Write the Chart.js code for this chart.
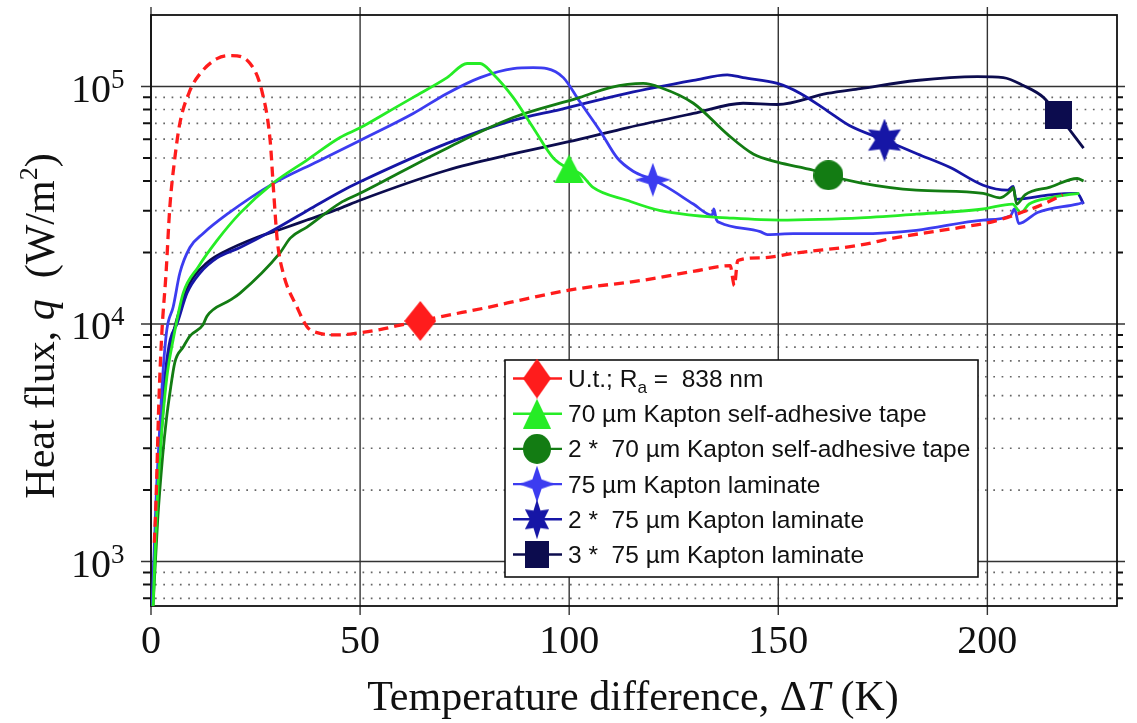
<!DOCTYPE html>
<html>
<head>
<meta charset="utf-8">
<script src="https://cdn.jsdelivr.net/npm/chart.js@4.4.1/dist/chart.umd.min.js"></script>
<style>
  html, body { margin: 0; padding: 0; background: #fff; }
  #wrap { width: 1137px; height: 723px; }
</style>
</head>
<body>
<div id="wrap"><canvas id="chart" width="1137" height="723"></canvas></div>
<script>
// Heat flux q (W/m^2) against temperature difference dT (K)
const utT = [0.8, 1.2, 1.9, 2.6, 3.6, 4.5, 5.7, 6.9, 9.3, 11.7, 15.8, 19.3, 23.7, 26.5, 28.5, 29.3, 30.2, 31.6, 34.9, 37.3, 39.7, 45, 50, 55, 59.6, 64.4, 70, 80, 90, 100, 117.7, 130, 138.5, 139.5, 140.3, 145.7, 155, 169.6, 177.5, 193.5, 201.4, 207, 213.4, 218];
const utQ = [1.2e3, 1.8e3, 4.8e3, 9.2e3, 1.64e4, 3.1e4, 5.0e4, 7.0e4, 9.6e4, 1.13e5, 1.31e5, 1.35e5, 1.25e5, 9.6e4, 5.9e4, 3.66e4, 2.25e4, 1.64e4, 1.18e4, 9.75e3, 9.2e3, 9.0e3, 9.2e3, 9.5e3, 9.9e3, 1.03e4, 1.08e4, 1.17e4, 1.28e4, 1.39e4, 1.53e4, 1.67e4, 1.76e4, 1.45e4, 1.85e4, 1.9e4, 2.0e4, 2.15e4, 2.3e4, 2.55e4, 2.7e4, 2.9e4, 3.2e4, 3.5e4];

const tape1T = [0.5, 1.5, 2.6, 3.8, 5.3, 7.7, 11.3, 15.8, 21.3, 29.2, 37.3, 45.2, 50, 56, 62.7, 70.8, 75.6, 78.7, 81.8, 86.6, 91.4, 96.2, 100, 102.6, 105.7, 113.8, 121.8, 129.7, 137.8, 150.5, 160, 169.6, 183, 199, 206, 208, 210, 215, 219, 222];
const tape1Q = [650, 1.8e3, 3.6e3, 6.0e3, 8.6e3, 1.35e4, 1.74e4, 2.25e4, 2.93e4, 3.92e4, 4.9e4, 6.1e4, 6.7e4, 7.7e4, 9.0e4, 1.09e5, 1.25e5, 1.25e5, 1.13e5, 9.0e4, 6.7e4, 5.0e4, 4.5e4, 4.3e4, 3.76e4, 3.32e4, 3.0e4, 2.87e4, 2.8e4, 2.74e4, 2.76e4, 2.8e4, 2.9e4, 3.05e4, 3.2e4, 2.95e4, 3.2e4, 3.4e4, 3.5e4, 3.55e4];

const tape2T = [0.5, 1.6, 2.8, 3.7, 4.5, 5.7, 7.7, 9.3, 12.4, 13.4, 18.9, 21.3, 30.9, 33.3, 37.3, 45.2, 50, 70.8, 86.6, 102.6, 109.8, 117.7, 121.8, 129.7, 137.8, 144, 149.8, 158.4, 162, 169.6, 183, 199, 203, 205.7, 206.2, 207, 209, 215, 221.5, 223];
const tape2Q = [650, 1.5e3, 2.8e3, 4.0e3, 5.1e3, 6.9e3, 8.0e3, 8.9e3, 9.9e3, 1.08e4, 1.26e4, 1.35e4, 2.0e4, 2.3e4, 2.56e4, 3.23e4, 3.55e4, 5.5e4, 7.4e4, 9.0e4, 9.9e4, 1.03e5, 9.9e4, 8.5e4, 6.3e4, 5.2e4, 4.8e4, 4.44e4, 4.23e4, 3.93e4, 3.66e4, 3.55e4, 3.4e4, 3.66e4, 3.75e4, 3.2e4, 3.5e4, 3.77e4, 4.1e4, 4.0e4];

const lam1T = [0.3, 1.2, 2.2, 2.9, 3.8, 5.3, 6.9, 9.3, 12.4, 18.2, 29.2, 40, 50, 62.7, 70.8, 78.7, 86.6, 91.4, 94.7, 98.6, 102.6, 107.4, 111.5, 115.3, 120, 123.4, 129.7, 134.2, 134.6, 135.2, 136.1, 145.7, 147.4, 153.6, 169.6, 183, 199, 205.5, 206.5, 207.5, 212, 221.5, 223];
const lam1Q = [650, 1.8e3, 3.95e3, 6.4e3, 9.5e3, 1.18e4, 1.64e4, 2.1e4, 2.4e4, 2.9e4, 3.9e4, 4.85e4, 5.93e4, 7.7e4, 9.35e4, 1.09e5, 1.19e5, 1.2e5, 1.19e5, 1.09e5, 8.6e4, 6.5e4, 5.0e4, 4.4e4, 4.05e4, 3.77e4, 3.2e4, 2.87e4, 3.05e4, 2.75e4, 2.67e4, 2.45e4, 2.38e4, 2.4e4, 2.4e4, 2.48e4, 2.74e4, 2.85e4, 3.05e4, 2.65e4, 2.95e4, 3.2e4, 3.25e4];

const lam2T = [0.3, 1.4, 2.5, 3.5, 4.6, 6.2, 8.6, 11.7, 15.8, 21.3, 29.2, 37.3, 45.2, 50, 70.8, 86.6, 97.8, 113.8, 129.7, 137.8, 141.6, 149.8, 155.3, 161.7, 167, 175.4, 183.3, 191, 199, 204.8, 206.2, 206.8, 215, 221.5, 223];
const lam2Q = [650, 1.8e3, 3.95e3, 6.4e3, 8.6e3, 1.0e4, 1.35e4, 1.64e4, 1.9e4, 2.1e4, 2.48e4, 3.0e4, 3.6e4, 3.97e4, 5.76e4, 7.2e4, 8.0e4, 9.35e4, 1.06e5, 1.12e5, 1.09e5, 1.03e5, 9.35e4, 7.9e4, 6.85e4, 5.95e4, 5.2e4, 4.57e4, 3.84e4, 3.66e4, 3.8e4, 3.35e4, 3.5e4, 3.55e4, 3.2e4];

const lam3T = [0.3, 1.5, 2.7, 3.8, 5.0, 6.2, 9.3, 13.4, 17.2, 25.4, 30.9, 37.3, 45.2, 50, 70.8, 86.6, 102.6, 113.8, 129.7, 141.6, 149.8, 161.7, 169.6, 183, 197.6, 203.8, 208.6, 213.4, 217, 223];
const lam3Q = [650, 1.8e3, 3.95e3, 6.4e3, 8.6e3, 1.05e4, 1.49e4, 1.81e4, 2.0e4, 2.32e4, 2.5e4, 2.74e4, 3.07e4, 3.32e4, 4.44e4, 5.2e4, 6.0e4, 6.7e4, 7.7e4, 8.5e4, 8.4e4, 9.35e4, 9.8e4, 1.06e5, 1.1e5, 1.09e5, 1.01e5, 9.0e4, 7.55e4, 5.5e4];

// one marker per series, sitting on its curve
const markT = [64.4, 100, 162, 120, 175.4, 217];
const markQ = [1.03e4, 4.5e4, 4.23e4, 4.05e4, 5.95e4, 7.55e4];

const seriesNames = ['U.t.; R|a| =  838 nm', '70 µm Kapton self-adhesive tape', '2 *  70 µm Kapton self-adhesive tape', '75 µm Kapton laminate', '2 *  75 µm Kapton laminate', '3 *  75 µm Kapton laminate'];
const seriesColors = ['#ff1c1c', '#26ec26', '#137c13', '#3c3cf0', '#1616a6', '#0c0c4e'];
const xTicks = [0, 50, 100, 150, 200];
const yDecades = [3, 4, 5];

function markerCanvas(shape, color, w, h) {
  const c = document.createElement('canvas');
  c.width = w; c.height = h;
  const g = c.getContext('2d');
  const cx = w / 2, cy = h / 2;
  g.fillStyle = color;
  g.beginPath();
  if (shape === 'diamond') {
    g.moveTo(cx, 0); g.lineTo(w, cy); g.lineTo(cx, h); g.lineTo(0, cy);
  } else if (shape === 'triangle') {
    g.moveTo(cx, 0); g.lineTo(w, h); g.lineTo(0, h);
  } else if (shape === 'circle') {
    g.ellipse(cx, cy, w / 2, h / 2, 0, 0, Math.PI * 2);
  } else if (shape === 'square') {
    g.rect(0, 0, w, h);
  } else {
    const n = shape === 'star4' ? 4 : 6;
    const inner = shape === 'star4' ? 0.36 : 0.5;
    for (let i = 0; i < n * 2; i++) {
      const ang = -Math.PI / 2 + i * Math.PI / n;
      const r = i % 2 ? inner : 1;
      const px = cx + Math.cos(ang) * r * w / 2;
      const py = cy + Math.sin(ang) * r * h / 2;
      i ? g.lineTo(px, py) : g.moveTo(px, py);
    }
  }
  g.closePath();
  g.fill();
  return c;
}

const markers = [
  markerCanvas('diamond', seriesColors[0], 32, 40),
  markerCanvas('triangle', seriesColors[1], 30, 29),
  markerCanvas('circle', seriesColors[2], 30, 30),
  markerCanvas('star4', seriesColors[3], 36, 34),
  markerCanvas('star6', seriesColors[4], 38, 43),
  markerCanvas('square', seriesColors[5], 27, 28)
];
const legendMarkers = [
  markerCanvas('diamond', seriesColors[0], 28, 40),
  markerCanvas('triangle', seriesColors[1], 28, 30),
  markerCanvas('circle', seriesColors[2], 28, 30),
  markerCanvas('star4', seriesColors[3], 36, 37),
  markerCanvas('star6', seriesColors[4], 28, 40),
  markerCanvas('square', seriesColors[5], 24, 27)
];

function pairs(xs, ys) {
  return xs.map((v, i) => ({ x: v, y: ys[i] }));
}

const curves = [[utT, utQ], [tape1T, tape1Q], [tape2T, tape2Q], [lam1T, lam1Q], [lam2T, lam2Q], [lam3T, lam3Q]];

const datasets = [];
// markers first so they end up on top of the lines
markT.forEach((t, i) => {
  datasets.push({
    data: [{ x: t, y: markQ[i] }],
    showLine: false,
    pointStyle: markers[i],
    pointRadius: 12,
    borderWidth: 0
  });
});
curves.forEach(([xs, ys], i) => {
  datasets.push({
    data: pairs(xs, ys),
    borderColor: seriesColors[i],
    borderWidth: i === 0 ? 3.3 : 2.8,
    borderDash: i === 0 ? [10, 6] : [],
    pointRadius: 0,
    cubicInterpolationMode: 'monotone',
    fill: false
  });
});

const serif = 'Liberation Serif, Times New Roman, serif';
const sans = 'Liberation Sans, Arial, sans-serif';

// runs of text with optional italic / raised / lowered parts
function drawRuns(ctx, runs, x, y, size) {
  runs.forEach(r => {
    const s = r.scale ? size * r.scale : size;
    ctx.font = (r.italic ? 'italic ' : '') + s + 'px ' + r.family;
    ctx.fillText(r.text, x, y + (r.dy || 0));
    x += ctx.measureText(r.text).width;
  });
  return x;
}
function runsWidth(ctx, runs, size) {
  let w = 0;
  runs.forEach(r => {
    const s = r.scale ? size * r.scale : size;
    ctx.font = (r.italic ? 'italic ' : '') + s + 'px ' + r.family;
    w += ctx.measureText(r.text).width;
  });
  return w;
}

const frame = {
  id: 'frame',
  beforeDatasetsDraw(chart) {
    const { ctx, chartArea: a, scales: { x, y } } = chart;
    ctx.save();
    // dotted minor grid
    ctx.strokeStyle = '#666';
    ctx.lineWidth = 1.7;
    ctx.setLineDash([1.7, 6.6]);
    for (let n = 2; n <= 5; n++) {
      for (let m = 2; m <= 9; m++) {
        const v = m * Math.pow(10, n);
        if (v <= y.min || v >= y.max) continue;
        const py = y.getPixelForValue(v);
        ctx.beginPath(); ctx.moveTo(a.left + 4, py); ctx.lineTo(a.right - 2, py); ctx.stroke();
        ctx.save();
        ctx.setLineDash([]);
        ctx.strokeStyle = '#111';
        ctx.lineWidth = 2;
        ctx.beginPath();
        ctx.moveTo(a.left - 8, py); ctx.lineTo(a.left, py);
        ctx.moveTo(a.right, py); ctx.lineTo(a.right + 6, py);
        ctx.stroke();
        ctx.restore();
      }
    }
    ctx.setLineDash([]);
    // decades
    ctx.strokeStyle = '#333';
    ctx.lineWidth = 1.6;
    yDecades.forEach(e => {
      const py = y.getPixelForValue(Math.pow(10, e));
      ctx.beginPath(); ctx.moveTo(a.left - 10, py); ctx.lineTo(a.right + 8, py); ctx.stroke();
    });
    // verticals every 50 K
    ctx.lineWidth = 1.4;
    xTicks.forEach(t => {
      const px = x.getPixelForValue(t);
      ctx.beginPath(); ctx.moveTo(px, a.top - 8); ctx.lineTo(px, a.bottom + 9); ctx.stroke();
    });
    // box
    ctx.strokeStyle = '#111';
    ctx.lineWidth = 1.8;
    ctx.strokeRect(a.left, a.top, a.right - a.left, a.bottom - a.top);
    ctx.restore();
  },
  afterDatasetsDraw(chart) {
    const { ctx, scales: { y } } = chart;
    ctx.save();
    ctx.fillStyle = '#111';
    ctx.textBaseline = 'alphabetic';

    // y tick labels 10^n
    yDecades.forEach(e => {
      const py = y.getPixelForValue(Math.pow(10, e));
      ctx.font = '40px ' + serif;
      ctx.textAlign = 'right';
      ctx.fillText('10', 111, py + 15);
      ctx.font = '27px ' + serif;
      ctx.textAlign = 'left';
      ctx.fillText(String(e), 111, py + 1);
    });

    // axis titles
    ctx.textAlign = 'left';
    const xt = [
      { text: 'Temperature difference, \u0394', family: serif },
      { text: 'T', family: serif, italic: true },
      { text: ' (K)', family: serif }
    ];
    const xw = runsWidth(ctx, xt, 42);
    drawRuns(ctx, xt, 633 - xw / 2, 710, 42);

    const yt = [
      { text: 'Heat flux, ', family: serif },
      { text: 'q', family: serif, italic: true },
      { text: '  (W/m', family: serif },
      { text: '2', family: serif, scale: 0.62, dy: -17 },
      { text: ')', family: serif }
    ];
    const yw = runsWidth(ctx, yt, 42);
    ctx.save();
    ctx.translate(54, 326);
    ctx.rotate(-Math.PI / 2);
    drawRuns(ctx, yt, -yw / 2, 0, 42);
    ctx.restore();

    // legend
    const lx = 505, ly = 360, lw = 473, lh = 217;
    ctx.fillStyle = '#fff';
    ctx.fillRect(lx, ly, lw, lh);
    ctx.strokeStyle = '#111';
    ctx.lineWidth = 1.6;
    ctx.strokeRect(lx, ly, lw, lh);
    seriesNames.forEach((name, i) => {
      const base = 387 + i * 35.2;
      const cy = base - 8.5;
      ctx.strokeStyle = seriesColors[i];
      ctx.lineWidth = 2.4;
      ctx.beginPath(); ctx.moveTo(513, cy); ctx.lineTo(562, cy); ctx.stroke();
      const mk = legendMarkers[i];
      ctx.drawImage(mk, 537 - mk.width / 2, cy - mk.height / 2);
      ctx.fillStyle = '#111';
      const parts = name.split('|');
      const runs = [{ text: parts[0], family: sans }];
      if (parts.length > 1) {
        runs.push({ text: parts[1], family: sans, scale: 0.7, dy: 6 });
        runs.push({ text: parts[2], family: sans });
      }
      drawRuns(ctx, runs, 568, base, 24.5);
    });
    ctx.restore();
  }
};

new Chart(document.getElementById('chart'), {
  type: 'line',
  data: { datasets },
  plugins: [frame],
  options: {
    responsive: false,
    animation: false,
    layout: { padding: { left: 0, top: 15, right: 20, bottom: 0 } },
    plugins: { legend: { display: false }, tooltip: { enabled: false } },
    scales: {
      x: {
        type: 'linear',
        min: 0,
        max: 231,
        grid: { display: false, drawTicks: false },
        border: { display: false },
        ticks: {
          stepSize: 50,
          includeBounds: false,
          maxRotation: 0,
          padding: 12,
          color: '#111',
          font: { family: serif, size: 40 },
          callback: v => xTicks.includes(v) ? String(v) : ''
        },
        afterFit: s => { s.height = 117; }
      },
      y: {
        type: 'logarithmic',
        min: 650,
        max: 2e5,
        grid: { display: false, drawTicks: false },
        border: { display: false },
        ticks: { display: false },
        afterFit: s => { s.width = 151; }
      }
    }
  }
});
</script>
</body>
</html>
